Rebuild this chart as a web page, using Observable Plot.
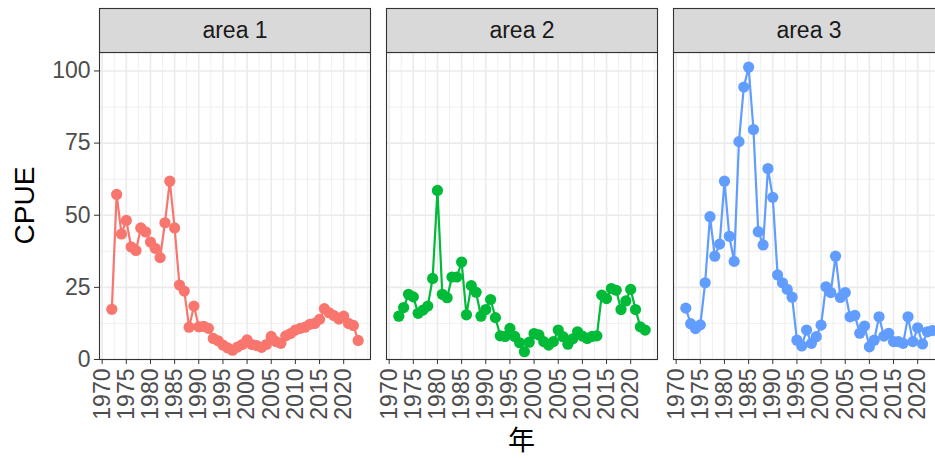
<!DOCTYPE html>
<html>
<head>
<meta charset="utf-8">
<script src="https://cdn.jsdelivr.net/npm/d3@7"></script>
<script src="https://cdn.jsdelivr.net/npm/@observablehq/plot@0.6"></script>
<style>
  html, body { margin: 0; padding: 0; background: #fff; overflow: hidden; }
  #chart svg { display: block; max-width: none !important; }
</style>
</head>
<body>
<div id="chart"></div>
<script>
// Catch per unit effort by year for three fishing areas
const areas = ["area 1", "area 2", "area 3"];
const years = [
  1972, 1973, 1974, 1975, 1976, 1977, 1978, 1979, 1980, 1981,
  1982, 1983, 1984, 1985, 1986, 1987, 1988, 1989, 1990, 1991,
  1992, 1993, 1994, 1995, 1996, 1997, 1998, 1999, 2000, 2001,
  2002, 2003, 2004, 2005, 2006, 2007, 2008, 2009, 2010, 2011,
  2012, 2013, 2014, 2015, 2016, 2017, 2018, 2019, 2020, 2021,
  2022, 2023
];
const area1 = [
  17.4, 57.2, 43.5, 48.2, 39.0, 37.8, 45.6, 44.2, 40.7, 38.5,
  35.3, 47.4, 61.8, 45.6, 25.8, 23.7, 11.2, 18.5, 11.3, 11.5,
  10.8, 7.3, 6.5, 5.0, 4.0, 3.2, 4.3, 5.2, 6.8, 5.2,
  4.8, 4.2, 5.2, 8.0, 6.2, 5.6, 8.2, 9.0, 10.2, 10.8,
  11.2, 12.2, 12.5, 13.9, 17.6, 16.2, 15.2, 14.0, 15.0, 12.5,
  11.8, 6.6
];
const area2 = [
  15.0, 18.0, 22.6, 21.7, 16.0, 17.1, 18.5, 28.1, 58.6, 22.6,
  21.4, 28.6, 28.6, 33.8, 15.5, 25.6, 23.3, 15.0, 17.3, 20.8,
  14.5, 8.2, 8.0, 10.8, 8.0, 5.8, 2.7, 6.0, 9.0, 8.5,
  6.2, 5.0, 6.2, 10.2, 7.9, 5.3, 7.2, 9.6, 8.1, 7.3,
  8.0, 8.2, 22.3, 21.1, 24.6, 24.0, 17.3, 20.3, 24.3, 17.3,
  11.3, 10.2
];
const area3 = [
  17.8, 12.4, 10.7, 12.0, 26.6, 49.5, 35.8, 40.0, 61.8, 42.7,
  34.0, 75.5, 94.4, 101.3, 79.7, 44.3, 39.7, 66.2, 56.2, 29.3,
  26.6, 24.3, 21.6, 6.7, 4.7, 10.2, 5.6, 7.9, 11.9, 25.2,
  23.2, 35.8, 21.5, 23.2, 14.8, 15.3, 9.1, 11.6, 4.4, 6.7,
  14.8, 8.1, 9.1, 6.2, 6.2, 5.6, 14.8, 6.2, 11.0, 5.4,
  9.6, 10.0
];
const xTicks = [1970, 1975, 1980, 1985, 1990, 1995, 2000, 2005, 2010, 2015, 2020];
const xMinor = [1972.5, 1977.5, 1982.5, 1987.5, 1992.5, 1997.5, 2002.5, 2007.5, 2012.5, 2017.5, 2022.5, 2025];
const yTicks = [0, 25, 50, 75, 100];
const yMinor = [12.5, 37.5, 62.5, 87.5];
const colors = ["#F8766D", "#00BA38", "#619CFF"];

const series = [area1, area2, area3];
const rows = series.flatMap((vals, i) =>
  vals.map((v, j) => ({area: areas[i], year: years[j], cpue: v}))
);

// layout
const W = 944, H = 459;
const mL = 99, mR = 0, mT = 52, mB = 100;
const panelH = H - mT - mB;
const stripH = 44;
const font = "'Liberation Sans', Arial, Helvetica, sans-serif";
const tickFont = 23;
const titleFont = 28;

const chart = Plot.plot({
  width: W,
  height: H,
  marginLeft: mL,
  marginRight: mR,
  marginTop: mT,
  marginBottom: mB,
  style: {fontFamily: font, fontSize: `${tickFont}px`, background: "#fff", overflow: "visible", maxWidth: "none"},
  fx: {domain: areas, paddingInner: 16 / 287, paddingOuter: 0, axis: null, label: null},
  x: {domain: [1969.45, 2025.55], label: null},
  y: {domain: [0, 106.4], label: null},
  color: {domain: areas, range: colors},
  marks: [
    // grid
    Plot.gridX(xMinor, {stroke: "#EBEBEB", strokeOpacity: 1, strokeWidth: 0.8}),
    Plot.gridY(yMinor, {stroke: "#EBEBEB", strokeOpacity: 1, strokeWidth: 0.8}),
    Plot.gridX(xTicks, {stroke: "#EBEBEB", strokeOpacity: 1, strokeWidth: 1.6}),
    Plot.gridY(yTicks, {stroke: "#EBEBEB", strokeOpacity: 1, strokeWidth: 1.6}),
    // data
    Plot.line(rows, {fx: "area", x: "year", y: "cpue", stroke: "area", strokeWidth: 2.2}),
    Plot.dot(rows, {fx: "area", x: "year", y: "cpue", fill: "area", r: 5.6}),
    // panel border
    Plot.frame({stroke: "#333333", strokeWidth: 1.1}),
    // facet strips
    Plot.frame({fill: "#D9D9D9", stroke: "#333333", strokeWidth: 1.1, insetTop: -stripH, insetBottom: panelH}),
    Plot.text(areas, {fx: d => d, text: d => d, frameAnchor: "top", lineAnchor: "middle", dy: -stripH / 2, fill: "#1A1A1A", fontSize: tickFont}),
    // axes
    Plot.axisY(yTicks, {anchor: "left", tickSize: 5, tickPadding: 4, stroke: "#333333", fill: "#4D4D4D", fontSize: tickFont, label: null}),
    Plot.axisX(xTicks, {anchor: "bottom", tickSize: 5, tickPadding: 4, tickRotate: -90, tickFormat: "d", stroke: "#333333", fill: "#4D4D4D", fontSize: tickFont, label: null})
  ]
});

// axis titles
const svg = d3.select(chart);
svg.append("text")
  .attr("transform", `translate(24,${mT + panelH / 2}) rotate(-90)`)
  .attr("text-anchor", "middle")
  .attr("dominant-baseline", "central")
  .style("font-family", font)
  .style("font-size", `${titleFont}px`)
  .attr("fill", "#000")
  .text("CPUE");
svg.append("text")
  .attr("x", (mL + W - mR) / 2)
  .attr("y", 438)
  .attr("text-anchor", "middle")
  .attr("dominant-baseline", "central")
  .style("font-family", "'Noto Sans CJK JP', 'Noto Sans CJK SC', sans-serif")
  .style("font-size", "27px")
  .attr("fill", "#000")
  .text("年");

document.getElementById("chart").appendChild(chart);
</script>
</body>
</html>
